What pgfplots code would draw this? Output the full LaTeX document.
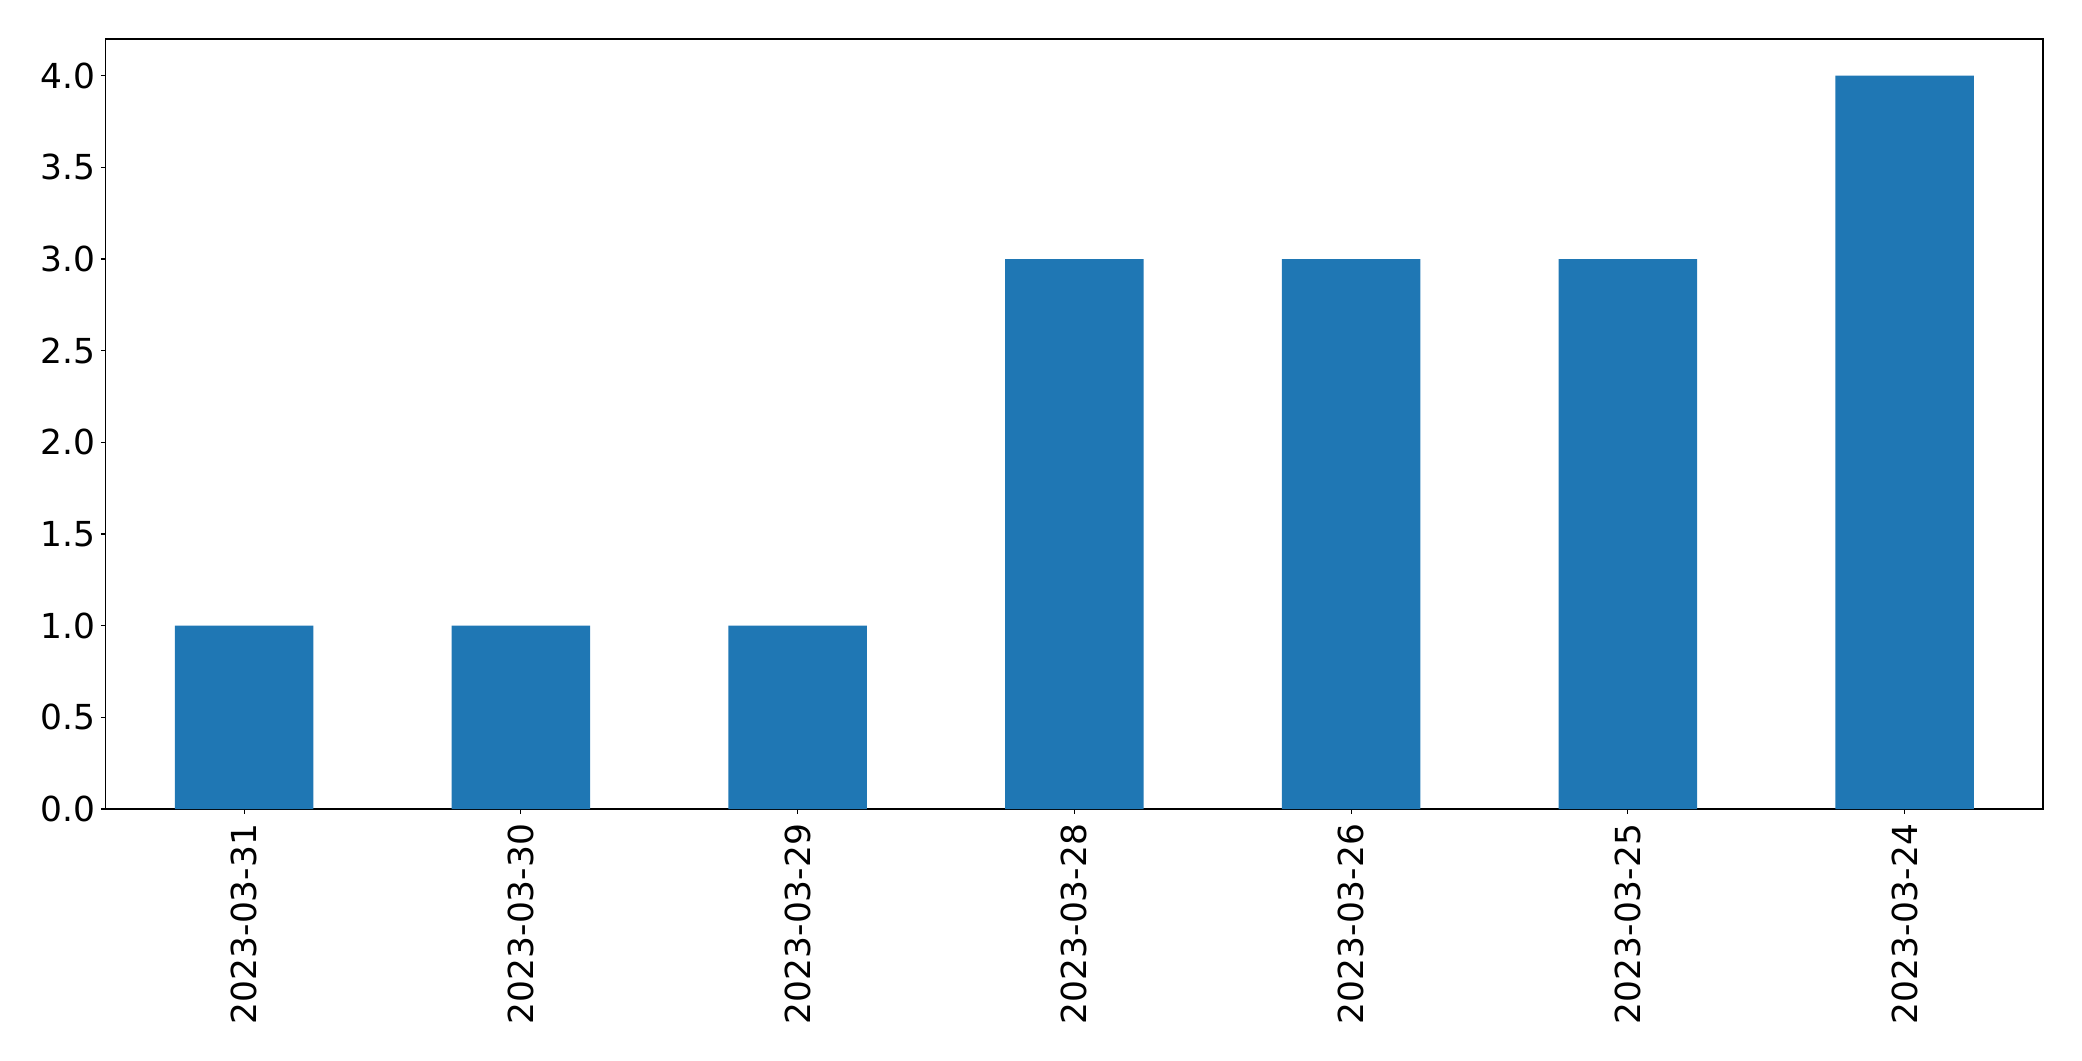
\documentclass[border=0pt]{standalone}
\usepackage{pgfplots}
\pgfplotsset{compat=1.18}
\usepackage{fontspec}
\setmainfont{DejaVu Sans}
\definecolor{mplblue}{HTML}{1F77B4}
\begin{document}
\begin{tikzpicture}
\begin{axis}[
  scale only axis,
  width=1394.9pt, height=554.4pt,
  xmin=-0.5, xmax=6.5, ymin=0, ymax=4.2,
  ybar, bar width=0.5,
  axis line style={line width=0.8pt},
  tick align=outside,
  major tick length=3.5pt,
  every tick/.style={black, line width=0.8pt},
  xtick={0,1,2,3,4,5,6},
  xticklabels={2023-03-31,2023-03-30,2023-03-29,2023-03-28,2023-03-26,2023-03-25,2023-03-24},
  ytick={0,0.5,...,4.0},
  xtick pos=bottom, ytick pos=left,
  /pgf/number format/assume math mode=true,
  /pgf/number format/fixed, /pgf/number format/fixed zerofill,
  /pgf/number format/precision=1,
  ticklabel style={font=\fontsize{24.8}{29}\selectfont},
  xticklabel style={rotate=90, anchor=east, inner sep=0pt, xshift=-7pt},
  yticklabel style={inner sep=0pt, xshift=-3.5pt},
]
\addplot[fill=mplblue, draw=none] coordinates {(0,1) (1,1) (2,1) (3,3) (4,3) (5,3) (6,4)};
\end{axis}
\path (current axis.south west) ++(-76.1pt,-181.4pt) rectangle ([shift={(28.1pt,28.1pt)}]current axis.north east);
\end{tikzpicture}
\end{document}
